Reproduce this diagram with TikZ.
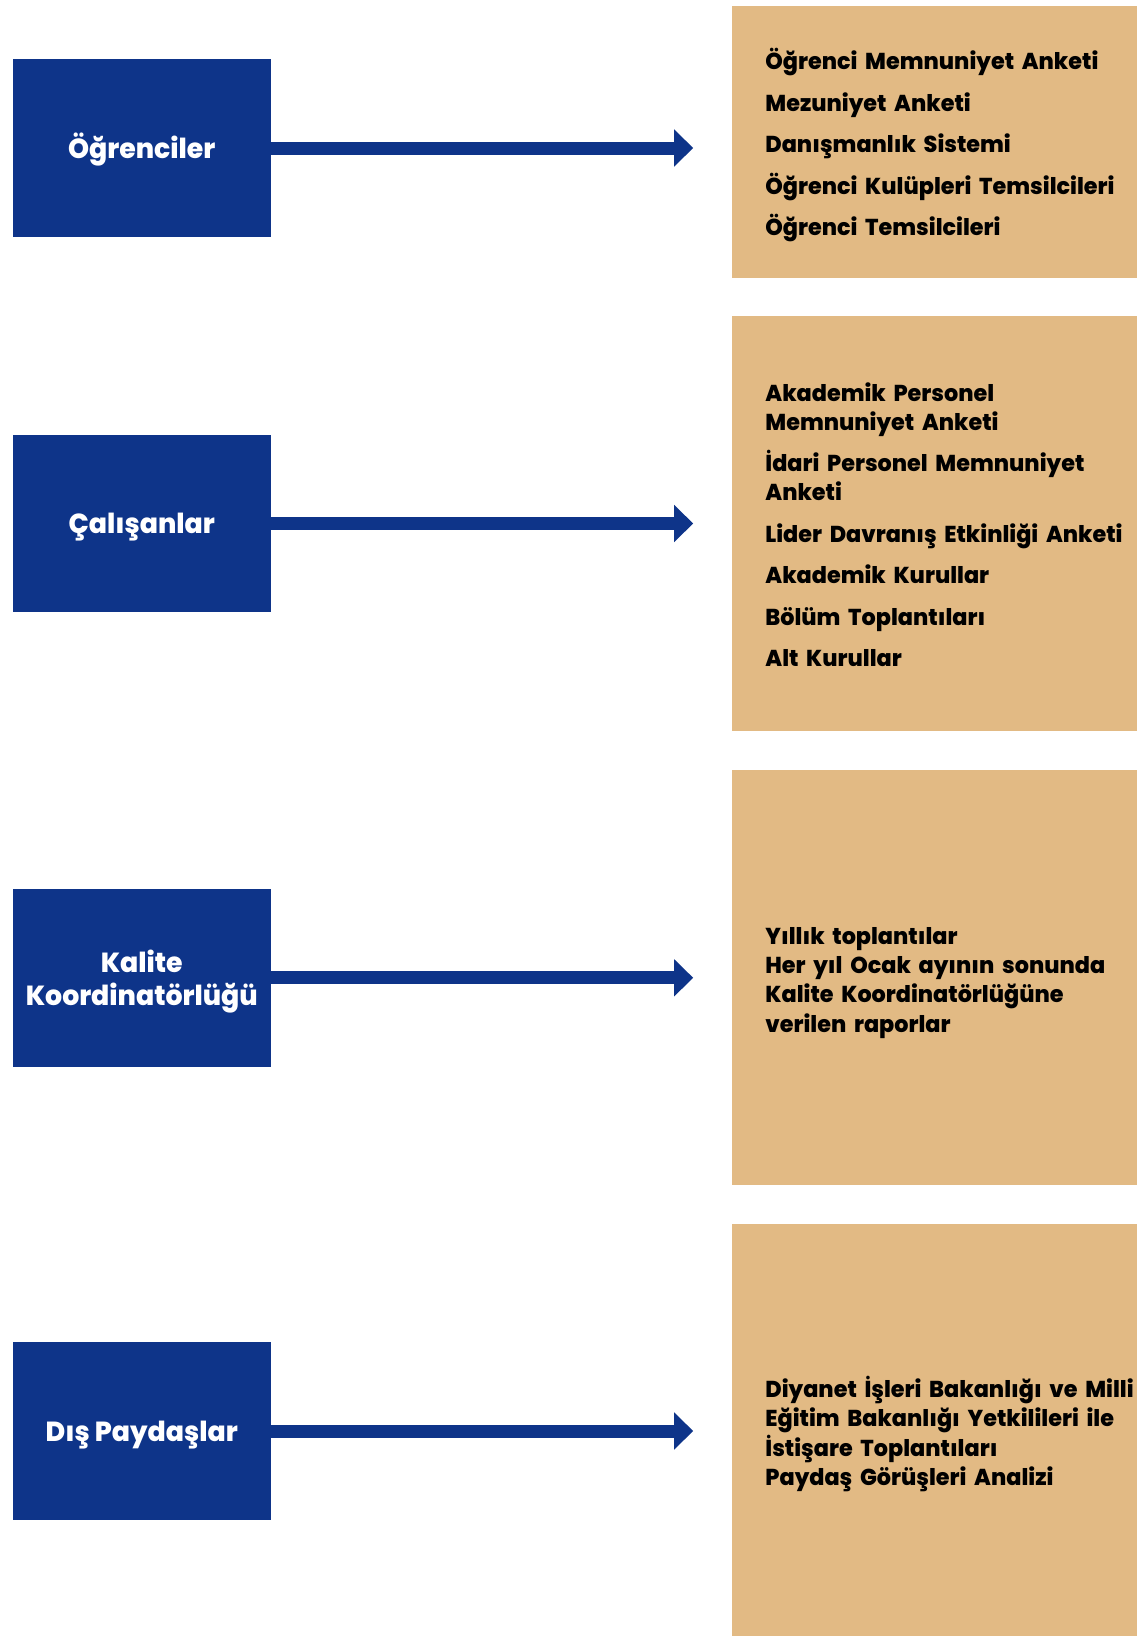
\documentclass[tikz,border=0pt]{standalone}
\usepackage{fontspec}
\setmainfont{Poppins}[BoldFont={Poppins ExtraBold}, FakeStretch=0.97]
\usepackage{xcolor}
\definecolor{stakeBlue}{HTML}{0E3489}
\definecolor{listTan}{HTML}{E2BA84}
\usetikzlibrary{positioning,arrows.meta}
\tikzset{%
  groupBox/.style={%
    rectangle,
    fill=stakeBlue,
    text=white,
    minimum width=258.5pt,
    minimum height=177.5pt,
    text height=20.6pt,
    text depth=0pt,
    align=center,
    font=\fontsize{27.6}{33}\selectfont\bfseries
  },
  listBox/.style={%
    rectangle,
    fill=listTan,
    text=black,
    text width=400pt,
    text height=21pt,
    inner xsep=33pt,
    inner ysep=0pt,
    align=left,
    font=\fontsize{23}{29.2}\selectfont\bfseries
  },
  flowArrow/.style={%
    -{Triangle[length=19pt,width=36pt]},
    line width=13pt,
    color=stakeBlue,
    shorten >=39pt
  }
}

\begin{document}
\begin{tikzpicture}[x=1pt,y=-1pt]
            \fill[white] (0,0) rectangle (1137,1636);
            \useasboundingbox (0,0) rectangle (1137,1636);

            \node[groupBox] (ogr) at (141.75,148) {Öğrenciler};
            \node[groupBox] (cal) at (141.75,523.5) {Çalışanlar};
            \node[groupBox, text height=55.8pt] (kal) at (141.75,977.8) {Kalite\\Koordinatörlüğü};
            \node[groupBox] (dis) at (141.75,1431) {Dış Paydaşlar};

            % depth = distance from first to last baseline
            \node[listBox, minimum height=272pt, text depth=166pt, right=461pt of ogr, yshift=5.6pt] (ogrList) {%
              Öğrenci Memnuniyet Anketi\\[12.3pt]
              Mezuniyet Anketi\\[12.3pt]
              Danışmanlık Sistemi\\[12.3pt]
              Öğrenci Kulüpleri Temsilcileri\\[12.3pt]
              Öğrenci Temsilcileri};
            \node[listBox, minimum height=415pt, text depth=266pt, right=461pt of cal] (calList) {%
              Akademik Personel\\Memnuniyet Anketi\\[12.3pt]
              İdari Personel Memnuniyet\\Anketi\\[12.3pt]
              Lider Davranış Etkinliği Anketi\\[12.3pt]
              Akademik Kurullar\\[12.3pt]
              Bölüm Toplantıları\\[12.3pt]
              Alt Kurullar};
            \node[listBox, minimum height=415pt, text depth=87.6pt, right=461pt of kal] (kalList) {%
              Yıllık toplantılar\\Her yıl Ocak ayının sonunda\\Kalite Koordinatörlüğüne\\verilen raporlar};
            \node[listBox, minimum height=414pt, text depth=87.6pt, right=461pt of dis] (disList) {%
              Diyanet İşleri Bakanlığı ve Milli\\Eğitim Bakanlığı Yetkilileri ile\\İstişare Toplantıları\\Paydaş Görüşleri Analizi};

            \draw[flowArrow] (ogr.east) -- (ogr.east -| ogrList.west);
            \draw[flowArrow] (cal.east) -- (cal.east -| calList.west);
            \draw[flowArrow] (kal.east) -- (kal.east -| kalList.west);
            \draw[flowArrow] (dis.east) -- (dis.east -| disList.west);
        \end{tikzpicture}
\end{document}
